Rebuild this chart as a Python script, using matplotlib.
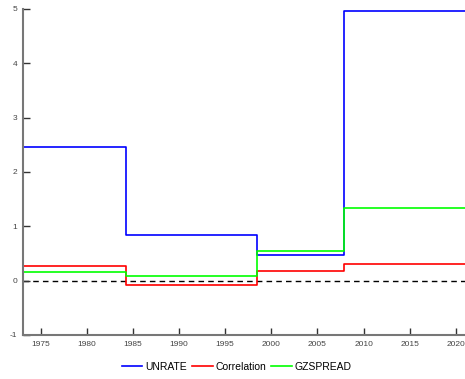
import matplotlib
matplotlib.use("Agg")
import matplotlib.pyplot as plt

plt.rcParams['font.family'] = ['Liberation Sans', 'DejaVu Sans']
plt.rcParams['axes.unicode_minus'] = False

# regime boundaries (fractional years) and level of each series in every regime
breaks = [1973.0, 1984.2, 1998.5, 2007.9, 2021.0]
unrate = [2.46, 0.84, 0.48, 4.97]
correlation = [0.27, -0.085, 0.18, 0.31]
gzspread = [0.16, 0.09, 0.54, 1.33]
year_ticks = [1975, 1980, 1985, 1990, 1995, 2000, 2005, 2010, 2015, 2020]
y_ticks = [-1, 0, 1, 2, 3, 4, 5]


def steps(levels):
    # repeat the last level so the step reaches the right edge
    return breaks, levels + [levels[-1]]


fig = plt.figure(figsize=(4.65, 3.79), dpi=100)
ax = fig.add_axes([0.0495, 0.1161, 0.9505, 0.8602])

ax.axhline(0, color='black', lw=1.0, ls=(0, (4, 3)), zorder=1)
x, y = steps(unrate)
ax.step(x, y, where='post', color='#0000ff', lw=1.2, label='UNRATE')
x, y = steps(correlation)
ax.step(x, y, where='post', color='#ff0000', lw=1.2, label='Correlation')
x, y = steps(gzspread)
ax.step(x, y, where='post', color='#00ff00', lw=1.2, label='GZSPREAD')

ax.set_xlim(1973.08, 2021.0)
ax.set_ylim(-1, 5)
ax.set_xticks(year_ticks)
ax.set_yticks(y_ticks)
for s in ['top', 'right']:
    ax.spines[s].set_visible(False)
for s in ['left', 'bottom']:
    ax.spines[s].set_color('#777777')
    ax.spines[s].set_linewidth(1.5)
ax.tick_params(direction='in', length=5, width=1, color='#333333',
               labelsize=6, labelcolor='#444444', pad=4)

fig.legend(loc='center', bbox_to_anchor=(0.509, 0.032), ncol=3, frameon=False,
           fontsize=7.5, handlelength=2.0, handletextpad=0.25, columnspacing=0.5)

fig.savefig('out.png', dpi=100)
